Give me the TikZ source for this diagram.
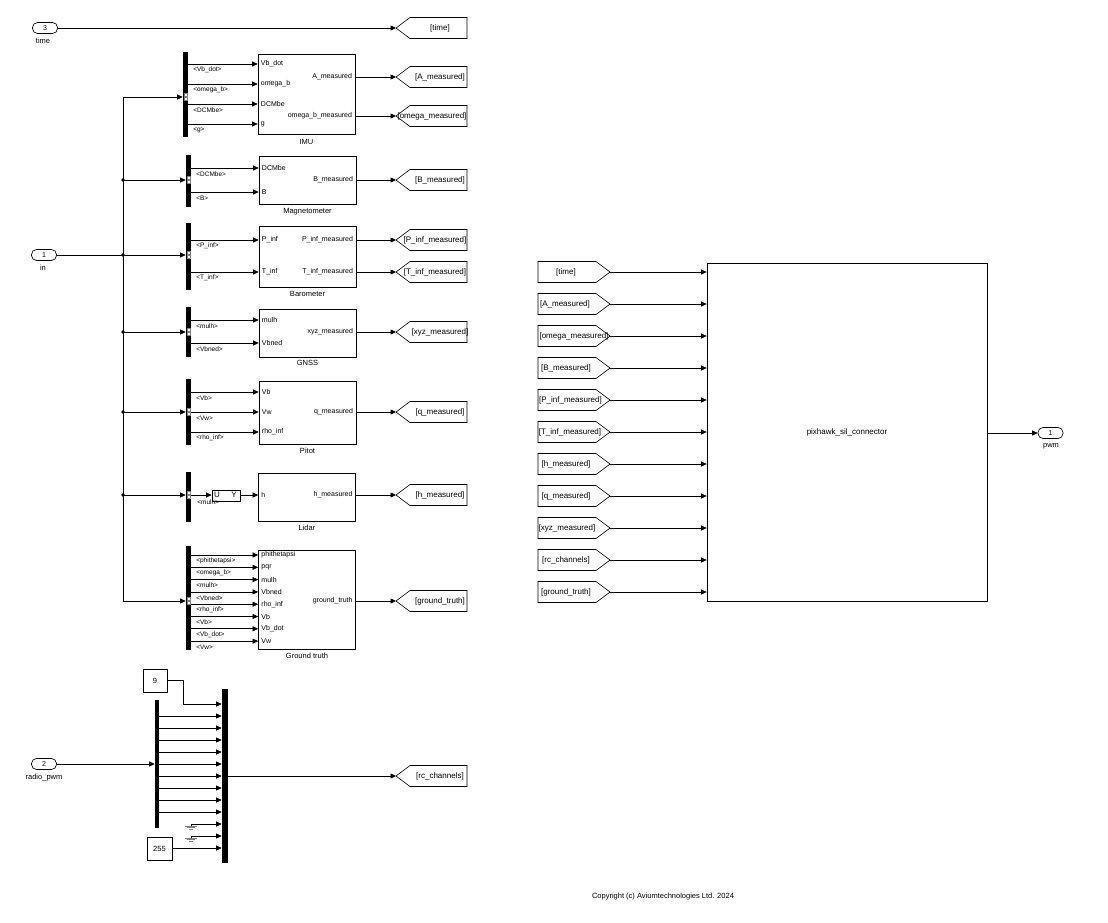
\documentclass[tikz,border=0pt]{standalone}
\usepackage{fontspec}
\setmainfont{Liberation Sans}
\usetikzlibrary{arrows.meta}
\newcommand{\GotoTag}[4]{%
  \draw[line width=0.6pt] (396,#2) -- (410,#2-10.5) -- (467,#2-10.5) -- (467,#2+10.5) -- (410,#2+10.5) -- cycle;
  \coordinate (#1) at (396,#2);
  \node[tlab] at (#4,#2) {#3};}
\newcommand{\FromTag}[4]{%
  \draw[line width=0.6pt] (538,#2-10.5) -- (596,#2-10.5) -- (610,#2) -- (596,#2+10.5) -- (538,#2+10.5) -- cycle;
  \coordinate (#1) at (610,#2);
  \node[tlab] at (#4,#2) {#3};}
\newcommand{\SigLine}[6]{%
  \draw[sig] (#1.east |- 0,#3) -- (#2.west |- 0,#3);
  \node[slab] at (#6,#3+6) {#4};
  \node[plab,anchor=west,xshift=3pt] at (#2.west |- 0,#3) {#5};}
\newcommand{\OutLine}[4]{%
  \draw[sig] (#1.east |- 0,#2) -- (#4);
  \node[plab,anchor=east,xshift=-3pt] at (#1.east |- 0,#2) {#3};}
\newcommand{\BusIcon}[2]{%
  \filldraw[fill=white, draw=gray, line width=0.3pt] (#1-1.5,#2-3.6) rectangle (#1+1.5,#2-0.4) (#1-1.5,#2+0.4) rectangle (#1+1.5,#2+3.6);}
\newcommand{\GroundSym}[2]{%
  \draw[line width=0.5pt] (#1,#2) -- (#1,#2+2);
  \draw[line width=0.5pt, gray] (#1-6,#2+2) -- (#1+6,#2+2) (#1-4,#2+3.6) -- (#1+4,#2+3.6) (#1-2,#2+5.2) -- (#1+2,#2+5.2);}
\begin{document}
\begin{tikzpicture}[x=1pt,y=-1pt, line width=0.65pt,
  sig/.style={-{Triangle[length=5.5pt,width=5pt]}},
  blk/.style={draw, line width=0.7pt, inner sep=0},
  bar/.style={fill=black, draw=none, inner sep=0},
  plab/.style={font=\fontsize{7}{8}\selectfont, inner sep=0},
  slab/.style={font=\fontsize{6.5}{7.5}\selectfont, inner sep=0, anchor=west},
  nlab/.style={font=\fontsize{7.5}{9}\selectfont, inner sep=0},
  tlab/.style={font=\fontsize{8}{9}\selectfont, inner sep=0},
  pill/.style={draw, rounded corners=5pt, minimum width=25pt, minimum height=11pt, inner sep=0, font=\fontsize{7}{8}\selectfont}]
\useasboundingbox (0,0) rectangle (1108,922);
\fill[white] (0,0) rectangle (1108,922);

% ---------- time ----------
\node[pill] (tin) at (45,28) {3};
\node[nlab] at (43,41) {time};
\GotoTag{gT}{28}{[time]}{440}
\draw[sig] (tin.east) -- (gT);

% ---------- in + trunk ----------
\node[pill] (inp) at (44,255) {1};
\node[nlab] at (43,268) {in};
\coordinate (t1) at (123,97);
\coordinate (t2) at (123,180);
\coordinate (t3) at (123,255);
\coordinate (t4) at (123,332);
\coordinate (t5) at (123,412);
\coordinate (t6) at (123,495);
\coordinate (t7) at (123,601);
\draw (inp.east) -- (t3);
\draw (t1) -- (t7);
\foreach \p in {t2,t3,t4,t5,t6} \fill (\p) circle (1.8);

% ---------- bus selectors ----------
\node[bar, minimum width=5pt, minimum height=85pt] (bimu) at (185.5,94.5) {};
\node[bar, minimum width=5pt, minimum height=52pt] (bmag) at (188.5,181) {};
\node[bar, minimum width=5pt, minimum height=67pt] (bbaro) at (188.5,256.5) {};
\node[bar, minimum width=5pt, minimum height=50pt] (bgnss) at (188.5,332) {};
\node[bar, minimum width=5pt, minimum height=66pt] (bpit) at (188.5,412) {};
\node[bar, minimum width=5pt, minimum height=50pt] (blid) at (188.5,497) {};
\node[bar, minimum width=5pt, minimum height=104pt] (bgt) at (188.5,598) {};

\draw[sig] (t1) -- (bimu.west |- t1);
\draw[sig] (t2) -- (bmag.west |- t2);
\draw[sig] (t3) -- (bbaro.west |- t3);
\draw[sig] (t4) -- (bgnss.west |- t4);
\draw[sig] (t5) -- (bpit.west |- t5);
\draw[sig] (t6) -- (blid.west |- t6);
\draw[sig] (t7) -- (bgt.west |- t7);
\BusIcon{185.5}{97}
\BusIcon{188.5}{180}
\BusIcon{188.5}{255}
\BusIcon{188.5}{332}
\BusIcon{188.5}{412}
\BusIcon{188.5}{495}
\BusIcon{188.5}{601}

% ---------- blocks ----------
\node[blk, minimum width=97pt, minimum height=80pt] (imu) at (306.5,94) {};
\node[nlab] at (306.5,142) {IMU};
\node[blk, minimum width=97pt, minimum height=48pt] (mag) at (307.5,180) {};
\node[nlab] at (307.5,212) {Magnetometer};
\node[blk, minimum width=97pt, minimum height=61pt] (baro) at (307.5,256.5) {};
\node[nlab] at (307.5,294) {Barometer};
\node[blk, minimum width=97pt, minimum height=48pt] (gnss) at (307.5,333) {};
\node[nlab] at (307.5,363) {GNSS};
\node[blk, minimum width=97pt, minimum height=63pt] (pitot) at (307.5,412.5) {};
\node[nlab] at (307.5,451) {Pitot};
\node[blk, minimum width=97pt, minimum height=48pt] (lidar) at (307,497) {};
\node[nlab] at (307,528) {Lidar};
\node[blk, minimum width=97pt, minimum height=99pt] (gt) at (307,599.5) {};
\node[nlab] at (307,656) {Ground truth};

% ---------- IMU ----------
\SigLine{bimu}{imu}{64}{<Vb\_dot>}{Vb\_dot}{193}
\SigLine{bimu}{imu}{84}{<omega\_b>}{omega\_b}{193}
\SigLine{bimu}{imu}{104}{<DCMbe>}{DCMbe}{193}
\SigLine{bimu}{imu}{124}{<g>}{g}{193}
\GotoTag{gA}{77}{[A\_measured]}{440}
\GotoTag{gO}{116}{[omega\_measured]}{432}
\OutLine{imu}{77}{A\_measured}{gA}
\OutLine{imu}{116}{omega\_b\_measured}{gO}

% ---------- Magnetometer ----------
\SigLine{bmag}{mag}{168}{<DCMbe>}{DCMbe}{196}
\SigLine{bmag}{mag}{192}{<B>}{B}{196}
\GotoTag{gB}{180}{[B\_measured]}{440}
\OutLine{mag}{180}{B\_measured}{gB}

% ---------- Barometer ----------
\SigLine{bbaro}{baro}{240}{<P\_inf>}{P\_inf}{196}
\SigLine{bbaro}{baro}{272}{<T\_inf>}{T\_inf}{196}
\GotoTag{gP}{240}{[P\_inf\_measured]}{435}
\GotoTag{gTi}{272}{[T\_inf\_measured]}{435}
\OutLine{baro}{240}{P\_inf\_measured}{gP}
\OutLine{baro}{272}{T\_inf\_measured}{gTi}

% ---------- GNSS ----------
\SigLine{bgnss}{gnss}{320}{<mulh>}{mulh}{196}
\SigLine{bgnss}{gnss}{343}{<Vbned>}{Vbned}{196}
\GotoTag{gX}{332}{[xyz\_measured]}{440}
\OutLine{gnss}{332}{xyz\_measured}{gX}

% ---------- Pitot ----------
\SigLine{bpit}{pitot}{392}{<Vb>}{Vb}{196}
\SigLine{bpit}{pitot}{412}{<Vw>}{Vw}{196}
\SigLine{bpit}{pitot}{432}{<rho\_inf>}{rho\_inf}{196}
\GotoTag{gQ}{412}{[q\_measured]}{440}
\OutLine{pitot}{412}{q\_measured}{gQ}

% ---------- Lidar ----------
\node[blk, minimum width=28pt, minimum height=11pt] (uy) at (226,495.5) {};
\node[tlab] at (217,495) {U};
\node[tlab] at (234,495) {Y};
\draw[sig] (blid.east |- 0,495) -- (uy.west |- 0,495);
\node[slab] at (197,502) {<mulh>};
\draw[sig] (uy.east |- 0,495) -- (lidar.west |- 0,495);
\node[plab,anchor=west,xshift=3pt] at (lidar.west |- 0,495) {h};
\GotoTag{gH}{495}{[h\_measured]}{440}
\OutLine{lidar}{495}{h\_measured}{gH}

% ---------- Ground truth ----------
\SigLine{bgt}{gt}{555}{<phithetapsi>}{phithetapsi}{196}
\SigLine{bgt}{gt}{567.3}{<omega\_b>}{pqr}{196}
\SigLine{bgt}{gt}{579.6}{<mulh>}{mulh}{196}
\SigLine{bgt}{gt}{591.9}{<Vbned>}{Vbned}{196}
\SigLine{bgt}{gt}{604.2}{<rho\_inf>}{rho\_inf}{196}
\SigLine{bgt}{gt}{616.5}{<Vb>}{Vb}{196}
\SigLine{bgt}{gt}{628.8}{<Vb\_dot>}{Vb\_dot}{196}
\SigLine{bgt}{gt}{641.1}{<Vw>}{Vw}{196}
\GotoTag{gG}{601}{[ground\_truth]}{440}
\OutLine{gt}{601}{ground\_truth}{gG}

% ---------- radio pwm ----------
\node[blk, minimum width=24pt, minimum height=23pt, font=\fontsize{7.5}{9}\selectfont] (c9) at (155,680.5) {9};
\node[bar, minimum width=4pt, minimum height=128pt] (dmx) at (157,764) {};
\node[bar, minimum width=6pt, minimum height=174pt] (mux) at (225,776) {};
\node[pill] (rp) at (44,764) {2};
\node[nlab] at (44,778) {radio\_pwm};
\draw[sig] (rp.east) -- (dmx.west |- rp);
\draw[sig] (c9.east) -| (183,704) -- (mux.west |- 0,704);
\foreach \k in {0,...,8} {
  \pgfmathsetmacro{\yy}{716+12*\k}
  \draw[sig] (dmx.east |- 0,\yy) -- (mux.west |- 0,\yy);
}
\coordinate (gr1) at (191,824);
\coordinate (gr2) at (191,836);
\draw[sig] (gr1) -- (mux.west |- gr1);
\draw[sig] (gr2) -- (mux.west |- gr2);
\GroundSym{191}{824}
\GroundSym{191}{836}
\node[blk, minimum width=25pt, minimum height=23pt, font=\fontsize{7.5}{9}\selectfont] (c255) at (159.5,848.5) {255};
\draw[sig] (c255.east |- 0,848) -- (mux.west |- 0,848);
\GotoTag{gR}{776}{[rc\_channels]}{440}
\draw[sig] (mux.east |- 0,776) -- (gR);

% ---------- right side ----------
\node[blk, minimum width=280pt, minimum height=338pt, font=\fontsize{8}{9}\selectfont] (pix) at (847,432) {pixhawk\_sil\_connector};
\FromTag{fT}{272}{[time]}{566}
\FromTag{fA}{304}{[A\_measured]}{565}
\FromTag{fO}{336}{[omega\_measured]}{574}
\FromTag{fB}{368}{[B\_measured]}{566}
\FromTag{fP}{400}{[P\_inf\_measured]}{570.5}
\FromTag{fTi}{432}{[T\_inf\_measured]}{570}
\FromTag{fH}{464}{[h\_measured]}{566}
\FromTag{fQ}{496}{[q\_measured]}{566}
\FromTag{fX}{528}{[xyz\_measured]}{567}
\FromTag{fR}{560}{[rc\_channels]}{566}
\FromTag{fG}{592}{[ground\_truth]}{566}
\foreach \f in {fT,fA,fO,fB,fP,fTi,fH,fQ,fX,fR,fG}
  \draw[sig] (\f) -- (pix.west |- \f);
\node[pill] (pwm) at (1050.5,433) {1};
\node[nlab] at (1051,446) {pwm};
\draw[sig] (pix.east |- pwm) -- (pwm.west);

\node[nlab] at (663,897) {Copyright (c) Aviumtechnologies Ltd. 2024};
\end{tikzpicture}
\end{document}
